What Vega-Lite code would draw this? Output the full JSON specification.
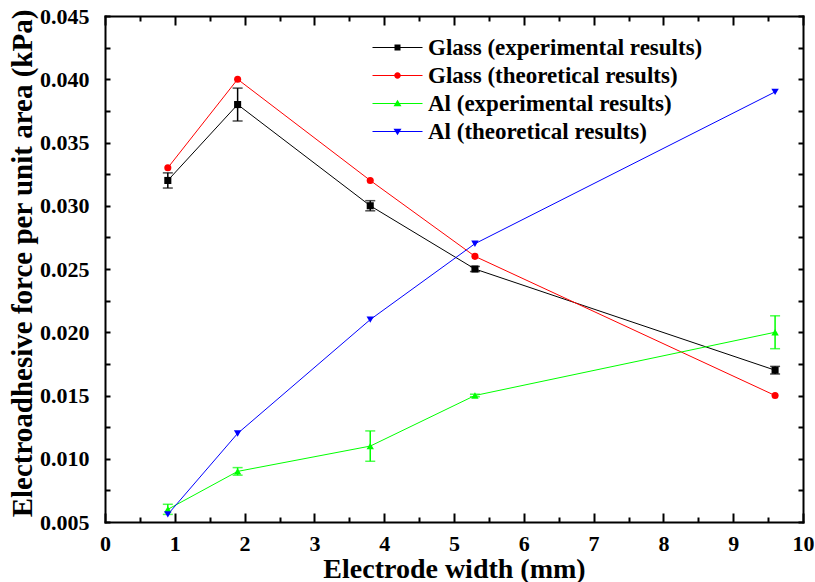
{
  "$schema": "https://vega.github.io/schema/vega-lite/v6.json",
  "autosize": {"type": "none"},
  "width": 698,
  "height": 506,
  "padding": {"left": 105, "top": 16, "right": 12, "bottom": 60},
  "background": "white",
  "config": {
    "view": {"stroke": null},
    "axis": {
      "grid": false,
      "domainColor": "black",
      "domainWidth": 2,
      "domainCap": "square",
      "tickColor": "black",
      "tickWidth": 2,
      "labelFont": "Liberation Serif",
      "labelFontWeight": "bold",
      "labelFontSize": 22,
      "labelColor": "black",
      "titleFont": "Liberation Serif",
      "titleFontWeight": "bold",
      "titleFontSize": 28,
      "titleColor": "black"
    }
  },
  "data": {
    "values": [
      {"s": "Glass (experimental results)", "x": 0.9, "y": 0.032, "lo": 0.0314, "hi": 0.0326},
      {"s": "Glass (experimental results)", "x": 1.9, "y": 0.038, "lo": 0.0367, "hi": 0.0393},
      {"s": "Glass (experimental results)", "x": 3.8, "y": 0.030, "lo": 0.0296, "hi": 0.0304},
      {"s": "Glass (experimental results)", "x": 5.3, "y": 0.025, "lo": 0.0248, "hi": 0.0252},
      {"s": "Glass (experimental results)", "x": 9.6, "y": 0.017, "lo": 0.0167, "hi": 0.0173},
      {"s": "Glass (theoretical results)", "x": 0.9, "y": 0.033},
      {"s": "Glass (theoretical results)", "x": 1.9, "y": 0.040},
      {"s": "Glass (theoretical results)", "x": 3.8, "y": 0.032},
      {"s": "Glass (theoretical results)", "x": 5.3, "y": 0.026},
      {"s": "Glass (theoretical results)", "x": 9.6, "y": 0.015},
      {"s": "Al (experimental results)", "x": 0.9, "y": 0.006, "lo": 0.0056, "hi": 0.0064},
      {"s": "Al (experimental results)", "x": 1.9, "y": 0.009, "lo": 0.0087, "hi": 0.0093},
      {"s": "Al (experimental results)", "x": 3.8, "y": 0.011, "lo": 0.0098, "hi": 0.0122},
      {"s": "Al (experimental results)", "x": 5.3, "y": 0.015, "lo": 0.0149, "hi": 0.0151},
      {"s": "Al (experimental results)", "x": 9.6, "y": 0.020, "lo": 0.0187, "hi": 0.0213},
      {"s": "Al (theoretical results)", "x": 0.9, "y": 0.0056},
      {"s": "Al (theoretical results)", "x": 1.9, "y": 0.012},
      {"s": "Al (theoretical results)", "x": 3.8, "y": 0.021},
      {"s": "Al (theoretical results)", "x": 5.3, "y": 0.027},
      {"s": "Al (theoretical results)", "x": 9.6, "y": 0.039}
    ]
  },
  "resolve": {"axis": {"x": "independent", "y": "independent"}},
  "layer": [
    {
      "transform": [{"filter": "datum.s === 'Glass (experimental results)'"}],
      "mark": {"type": "line", "strokeWidth": 1, "color": "#000000"},
      "encoding": {
        "x": {
          "field": "x", "type": "quantitative",
          "scale": {"domain": [0, 10], "nice": false, "zero": false},
          "axis": {
            "title": "Electrode width (mm)",
            "values": [0, 0.5, 1, 1.5, 2, 2.5, 3, 3.5, 4, 4.5, 5, 5.5, 6, 6.5, 7, 7.5, 8, 8.5, 9, 9.5, 10],
            "labelExpr": "datum.value % 1 === 0 ? format(datum.value, 'd') : ''",
            "tickSize": {"condition": {"test": "datum.value % 1 !== 0", "value": -5}, "value": -9},
            "labelPadding": 20,
            "labelFlush": false,
            "titlePadding": 1
          }
        },
        "y": {
          "field": "y", "type": "quantitative",
          "scale": {"domain": [0.005, 0.045], "nice": false, "zero": false},
          "axis": {
            "title": "Electroadhesive force per unit area (kPa)",
            "titleFontSize": 29,
            "titleY": 247,
            "values": [0.005, 0.0075, 0.01, 0.0125, 0.015, 0.0175, 0.02, 0.0225, 0.025, 0.0275, 0.03, 0.0325, 0.035, 0.0375, 0.04, 0.0425, 0.045],
            "labelExpr": "abs(round(datum.value*400)) % 2 === 0 ? format(datum.value, '.3f') : ''",
            "tickSize": -5,
            "labelPadding": 21,
            "labelFlush": false,
            "titlePadding": 2
          }
        }
      }
    },
    {
      "transform": [{"filter": "datum.s === 'Glass (theoretical results)'"}],
      "mark": {"type": "line", "strokeWidth": 1, "color": "#ff0000"},
      "encoding": {
        "x": {"field": "x", "type": "quantitative", "axis": null},
        "y": {"field": "y", "type": "quantitative", "axis": null}
      }
    },
    {
      "transform": [{"filter": "datum.s === 'Al (experimental results)'"}],
      "mark": {"type": "line", "strokeWidth": 1, "color": "#00ff00"},
      "encoding": {
        "x": {"field": "x", "type": "quantitative", "axis": null},
        "y": {"field": "y", "type": "quantitative", "axis": null}
      }
    },
    {
      "transform": [{"filter": "datum.s === 'Al (theoretical results)'"}],
      "mark": {"type": "line", "strokeWidth": 1, "color": "#0000ff"},
      "encoding": {
        "x": {"field": "x", "type": "quantitative", "axis": null},
        "y": {"field": "y", "type": "quantitative", "axis": null}
      }
    },
    {
      "transform": [{"filter": "datum.s === 'Glass (experimental results)'"}],
      "mark": {"type": "errorbar", "thickness": 1.5, "color": "#000000", "ticks": {"size": 10}},
      "encoding": {
        "x": {"field": "x", "type": "quantitative", "axis": null},
        "y": {"field": "lo", "type": "quantitative", "axis": null},
        "y2": {"field": "hi"}
      }
    },
    {
      "transform": [{"filter": "datum.s === 'Al (experimental results)'"}],
      "mark": {"type": "errorbar", "thickness": 1.5, "color": "#00ff00", "ticks": {"size": 10}},
      "encoding": {
        "x": {"field": "x", "type": "quantitative", "axis": null},
        "y": {"field": "lo", "type": "quantitative", "axis": null},
        "y2": {"field": "hi"}
      }
    },
    {
      "transform": [{"filter": "datum.s === 'Glass (experimental results)'"}],
      "mark": {"type": "point", "filled": true, "opacity": 1, "size": 50, "shape": "square", "color": "#000000"},
      "encoding": {
        "x": {"field": "x", "type": "quantitative", "axis": null},
        "y": {"field": "y", "type": "quantitative", "axis": null}
      }
    },
    {
      "transform": [{"filter": "datum.s === 'Glass (theoretical results)'"}],
      "mark": {"type": "point", "filled": true, "opacity": 1, "size": 50, "shape": "circle", "color": "#ff0000"},
      "encoding": {
        "x": {"field": "x", "type": "quantitative", "axis": null},
        "y": {"field": "y", "type": "quantitative", "axis": null}
      }
    },
    {
      "transform": [{"filter": "datum.s === 'Al (experimental results)'"}],
      "mark": {"type": "point", "filled": true, "opacity": 1, "size": 55, "shape": "triangle-up", "color": "#00ff00"},
      "encoding": {
        "x": {"field": "x", "type": "quantitative", "axis": null},
        "y": {"field": "y", "type": "quantitative", "axis": null}
      }
    },
    {
      "transform": [{"filter": "datum.s === 'Al (theoretical results)'"}],
      "mark": {"type": "point", "filled": true, "opacity": 1, "size": 55, "shape": "triangle-down", "color": "#0000ff"},
      "encoding": {
        "x": {"field": "x", "type": "quantitative", "axis": null},
        "y": {"field": "y", "type": "quantitative", "axis": null}
      }
    },
    {
      "mark": {"type": "point", "filled": true, "opacity": 0, "size": 50},
      "encoding": {
        "x": {
          "field": "x", "type": "quantitative",
          "axis": {
            "orient": "top", "title": null, "labels": false,
            "values": [0, 0.5, 1, 1.5, 2, 2.5, 3, 3.5, 4, 4.5, 5, 5.5, 6, 6.5, 7, 7.5, 8, 8.5, 9, 9.5, 10],
            "tickSize": {"condition": {"test": "datum.value % 1 !== 0", "value": -5}, "value": -9}
          }
        },
        "y": {
          "field": "y", "type": "quantitative",
          "axis": {
            "orient": "right", "title": null, "labels": false,
            "values": [0.005, 0.0075, 0.01, 0.0125, 0.015, 0.0175, 0.02, 0.0225, 0.025, 0.0275, 0.03, 0.0325, 0.035, 0.0375, 0.04, 0.0425, 0.045],
            "tickSize": -5
          }
        },
        "color": {
          "field": "s", "type": "nominal",
          "scale": {
            "domain": ["Glass (experimental results)", "Glass (theoretical results)", "Al (experimental results)", "Al (theoretical results)"],
            "range": ["#000000", "#ff0000", "#00ff00", "#0000ff"]
          },
          "legend": {
            "title": null, "orient": "none", "legendX": 261, "legendY": 20, "padding": 0,
            "symbolSize": 100, "symbolOffset": 20, "labelOffset": 19, "rowPadding": 4,
            "symbolOpacity": 1, "symbolStrokeWidth": 0,
            "labelFont": "Liberation Serif", "labelFontWeight": "bold", "labelFontSize": 23,
            "labelColor": "black", "labelLimit": 400
          }
        },
        "shape": {
          "field": "s", "type": "nominal",
          "scale": {
            "domain": ["Glass (experimental results)", "Glass (theoretical results)", "Al (experimental results)", "Al (theoretical results)"],
            "range": [
              "M-5,-0.12H5V0.12H-5ZM-0.6,-0.6H0.6V0.6H-0.6Z",
              "M-5,-0.12H5V0.12H-5ZM-0.65,0C-0.65,-0.36 -0.36,-0.65 0,-0.65C0.36,-0.65 0.65,-0.36 0.65,0C0.65,0.36 0.36,0.65 0,0.65C-0.36,0.65 -0.65,0.36 -0.65,0Z",
              "M-5,-0.12H5V0.12H-5ZM0,-0.75L0.8,0.55H-0.8Z",
              "M-5,-0.12H5V0.12H-5ZM0,0.75L-0.8,-0.55H0.8Z"
            ]
          },
          "legend": {
            "title": null, "orient": "none", "legendX": 261, "legendY": 20, "padding": 0,
            "symbolSize": 100, "symbolOffset": 20, "labelOffset": 19, "rowPadding": 4,
            "symbolOpacity": 1, "symbolStrokeWidth": 0,
            "labelFont": "Liberation Serif", "labelFontWeight": "bold", "labelFontSize": 23,
            "labelColor": "black", "labelLimit": 400
          }
        }
      }
    }
  ]
}
